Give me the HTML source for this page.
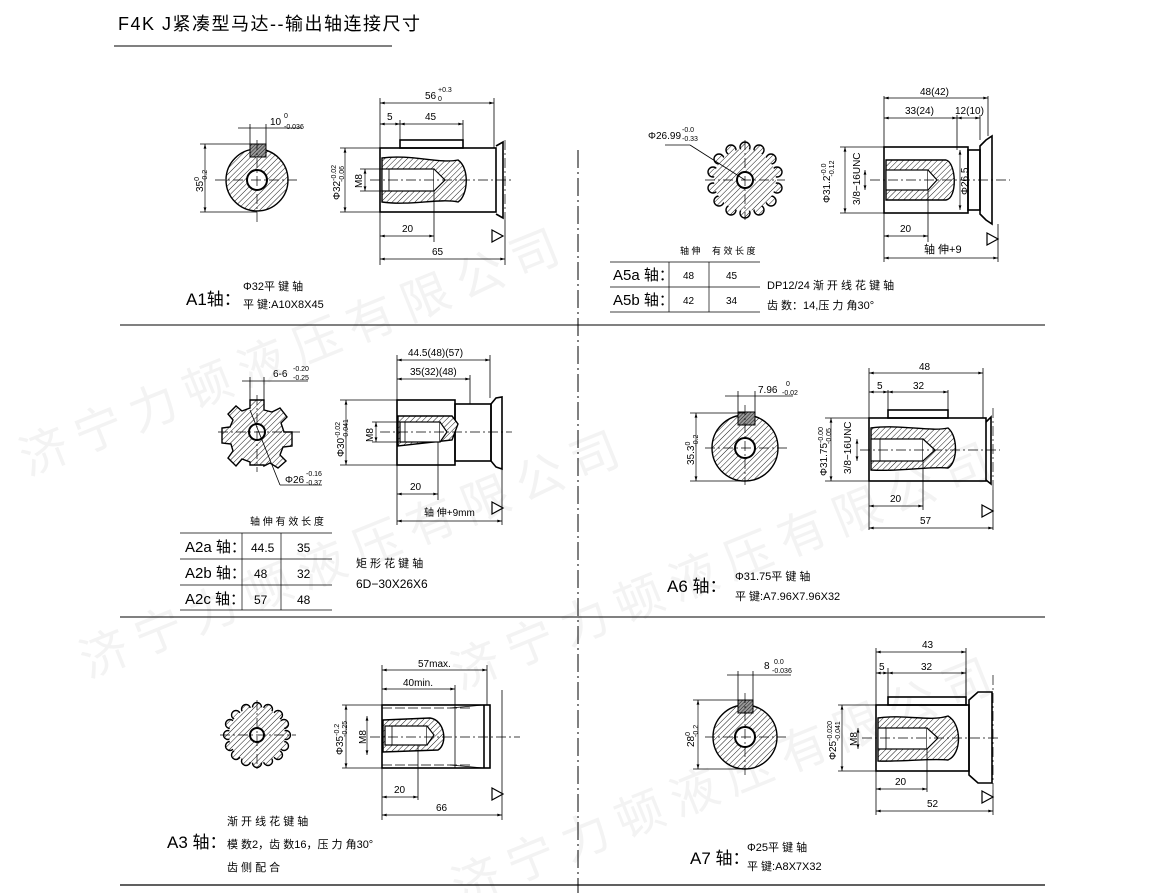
<!DOCTYPE html>
<html><head><meta charset="utf-8"><style>
html,body{margin:0;padding:0;background:#fff;overflow:hidden;width:1162px;height:893px}
svg{display:block}
text{font-family:"Liberation Sans","Noto Sans CJK SC",sans-serif;fill:#000}
.l{stroke:#000;stroke-width:1.6;fill:none}
.t{stroke:#000;stroke-width:0.8;fill:none}
.d{stroke:#000;stroke-width:0.7;fill:none}
.c{stroke:#000;stroke-width:0.7;stroke-dasharray:10 3 2 3;fill:none}
.h{fill:url(#hat);stroke:#000;stroke-width:1.4}
.s{font-size:10px}
.xs{font-size:7px}
.lab{font-size:17px}
.cn{font-size:11px}
.wm{font-size:48px;fill:#f3f3f3;font-family:"Noto Sans CJK SC",sans-serif}
</style></head><body>
<svg width="1162" height="893" viewBox="0 0 1162 893" xmlns="http://www.w3.org/2000/svg">
<defs>
<pattern id="hat" patternUnits="userSpaceOnUse" width="4" height="4" patternTransform="rotate(45)">
<rect width="4" height="4" fill="#fff"/><line x1="0" y1="0" x2="0" y2="4" stroke="#000" stroke-width="0.9"/></pattern>
<pattern id="hat2" patternUnits="userSpaceOnUse" width="2.5" height="2.5" patternTransform="rotate(45)">
<rect width="3" height="3" fill="#999"/><line x1="0" y1="0" x2="0" y2="3" stroke="#000" stroke-width="0.8"/></pattern>
<marker id="a" viewBox="0 0 10 6" refX="10" refY="3" markerWidth="8" markerHeight="4" orient="auto-start-reverse"><path d="M0,0 L10,3 L0,6z" fill="#000"/></marker>
</defs>

<!-- watermark -->
<g transform="rotate(-22 600 450)">
<text class="wm" x="60" y="260">济 宁 力 顿 液 压 有 限 公 司</text>
<text class="wm" x="40" y="470">济 宁 力 顿 液 压 有 限 公 司</text>
<text class="wm" x="380" y="620">济 宁 力 顿 液 压 有 限 公 司</text>
<text class="wm" x="300" y="820">济 宁 力 顿 液 压 有 限 公 司</text>
</g>

<!-- title -->
<text x="118" y="30" style="font-size:18px;letter-spacing:1.5px">F4K J紧凑型马达--输出轴连接尺寸</text>
<line x1="114" y1="46" x2="392" y2="46" stroke="#000" stroke-width="1"/>

<!-- dividers -->
<line x1="120" y1="325" x2="1045" y2="325" stroke="#000" stroke-width="1"/>
<line x1="120" y1="617" x2="1045" y2="617" stroke="#000" stroke-width="1"/>
<line x1="120" y1="885" x2="1045" y2="885" stroke="#000" stroke-width="1.2"/>
<line x1="578" y1="150" x2="578" y2="893" stroke="#000" stroke-width="1" stroke-dasharray="18 4 2 4"/>

<!-- ================= A1 ================= -->
<g>
<circle cx="257" cy="180" r="31" class="h"/>
<circle cx="257" cy="180" r="10" fill="#fff" stroke="#000" stroke-width="2"/>
<rect x="250" y="144" width="16" height="13" fill="url(#hat2)" stroke="#000" stroke-width="1"/>
<line x1="215" y1="180" x2="300" y2="180" class="c"/><line x1="257" y1="140" x2="257" y2="222" class="c"/>
<line x1="238" y1="128" x2="302" y2="128" class="d"/>
<line x1="250" y1="124" x2="250" y2="144" class="t"/><line x1="266" y1="124" x2="266" y2="144" class="t"/>
<text x="270" y="125" class="s">10</text><text x="284" y="118" class="xs">0</text><text x="284" y="129" class="xs">-0.036</text>
<line x1="200" y1="144" x2="250" y2="144" class="t"/><line x1="200" y1="212" x2="257" y2="212" class="t"/>
<line x1="205" y1="144" x2="205" y2="212" class="d" marker-start="url(#a)" marker-end="url(#a)"/>
<text transform="translate(203 192) rotate(-90)" class="s">35<tspan dy="-4" font-size="7">0</tspan><tspan dx="-5" dy="8" font-size="7">-0.2</tspan></text>

<rect x="380" y="148" width="116" height="64" class="l"/>
<rect x="400" y="140" width="63" height="8" class="l"/>
<path d="M496 146 L503 142 L503 218 L496 214" class="l"/>
<line x1="505" y1="140" x2="505" y2="220" class="c"/>
<path d="M382 158 C410 154 440 164 458 160 C470 168 468 196 458 202 C440 198 410 206 382 202 Z" class="h"/>
<rect x="382" y="169" width="52" height="22" fill="#fff" stroke="#000" stroke-width="1.2"/>
<path d="M434 169 L445 180 L434 191" fill="#fff" stroke="#000" stroke-width="1.2"/>
<line x1="389" y1="169" x2="389" y2="191" class="t"/>
<line x1="370" y1="180" x2="512" y2="180" class="c"/>
<line x1="340" y1="148" x2="380" y2="148" class="t"/><line x1="340" y1="212" x2="380" y2="212" class="t"/>
<line x1="345" y1="148" x2="345" y2="212" class="d" marker-start="url(#a)" marker-end="url(#a)"/>
<text transform="translate(340 200) rotate(-90)" class="s">Φ32<tspan dy="-4" font-size="7">-0.02</tspan><tspan dx="-17" dy="8" font-size="7">-0.06</tspan></text>
<line x1="365" y1="169" x2="365" y2="191" class="d" marker-start="url(#a)" marker-end="url(#a)"/>
<line x1="360" y1="169" x2="382" y2="169" class="t"/><line x1="360" y1="191" x2="382" y2="191" class="t"/>
<text transform="translate(362 188) rotate(-90)" class="s">M8</text>
<line x1="380" y1="98" x2="380" y2="265" class="t"/><line x1="494" y1="98" x2="494" y2="148" class="t"/>
<line x1="400" y1="120" x2="400" y2="140" class="t"/><line x1="463" y1="120" x2="463" y2="140" class="t"/>
<line x1="380" y1="103" x2="494" y2="103" class="d" marker-start="url(#a)" marker-end="url(#a)"/>
<text x="425" y="99" class="s">56</text><text x="438" y="92" class="xs">+0.3</text><text x="438" y="101" class="xs">0</text>
<line x1="380" y1="124" x2="400" y2="124" class="d" marker-start="url(#a)" marker-end="url(#a)"/>
<line x1="400" y1="124" x2="463" y2="124" class="d" marker-start="url(#a)" marker-end="url(#a)"/>
<text x="387" y="120" class="s">5</text><text x="425" y="120" class="s">45</text>
<line x1="434" y1="191" x2="434" y2="242" class="t"/>
<line x1="380" y1="236" x2="434" y2="236" class="d" marker-start="url(#a)" marker-end="url(#a)"/>
<text x="402" y="232" class="s">20</text>
<line x1="505" y1="220" x2="505" y2="265" class="t"/>
<line x1="380" y1="259" x2="505" y2="259" class="d" marker-start="url(#a)" marker-end="url(#a)"/>
<text x="432" y="255" class="s">65</text>
<path d="M492 230 L503 236 L492 242 Z" fill="none" stroke="#000" stroke-width="1.2"/>
<text x="186" y="305" class="lab">A1轴：</text>
<text x="243" y="290" class="cn">Φ32平 键 轴</text>
<text x="243" y="308" class="cn">平 键:A10X8X45</text>
</g>

<!-- ================= A5 ================= -->
<g>
<g class="h">
<circle cx="745" cy="147" r="5"/><circle cx="759" cy="150" r="5"/><circle cx="771" cy="159" r="5"/><circle cx="777" cy="172" r="5"/><circle cx="777" cy="188" r="5"/><circle cx="771" cy="201" r="5"/><circle cx="759" cy="210" r="5"/><circle cx="745" cy="213" r="5"/><circle cx="731" cy="210" r="5"/><circle cx="719" cy="201" r="5"/><circle cx="713" cy="188" r="5"/><circle cx="713" cy="172" r="5"/><circle cx="719" cy="159" r="5"/><circle cx="731" cy="150" r="5"/>
</g>
<circle cx="745" cy="180" r="31" fill="url(#hat)" stroke="none"/>
<circle cx="745" cy="180" r="8" fill="#fff" stroke="#000" stroke-width="2"/>
<line x1="705" y1="180" x2="785" y2="180" class="c"/><line x1="745" y1="140" x2="745" y2="220" class="c"/>
<line x1="665" y1="145" x2="690" y2="145" class="t"/><line x1="690" y1="145" x2="745" y2="180" class="t"/>
<text x="648" y="139" class="s">Φ26.99</text><text x="682" y="132" class="xs">-0.0</text><text x="682" y="141" class="xs">-0.33</text>

<rect x="884" y="147" width="84" height="66" class="l"/>
<rect x="968" y="150" width="12" height="60" class="l"/>
<path d="M980 146 L986 140 L992 136 L992 224 L986 220 L980 214 Z" class="l"/>
<path d="M886 160 L946 160 C956 162 958 198 946 200 L886 200 Z" class="h"/>
<rect x="886" y="170" width="42" height="20" fill="#fff" stroke="#000" stroke-width="1.2"/>
<path d="M928 170 L937 180 L928 190" fill="#fff" stroke="#000" stroke-width="1.2"/>
<line x1="870" y1="180" x2="1010" y2="180" class="c"/>
<line x1="840" y1="147" x2="884" y2="147" class="t"/><line x1="840" y1="213" x2="884" y2="213" class="t"/>
<line x1="845" y1="147" x2="845" y2="213" class="d" marker-start="url(#a)" marker-end="url(#a)"/>
<text transform="translate(830 203) rotate(-90)" class="s">Φ31.2<tspan dy="-4" font-size="7">-0.0</tspan><tspan dx="-13" dy="8" font-size="7">-0.12</tspan></text>
<line x1="865" y1="170" x2="865" y2="190" class="d" marker-start="url(#a)" marker-end="url(#a)"/>
<text transform="translate(860 205) rotate(-90)" class="s">3/8−16UNC</text>
<line x1="960" y1="150" x2="960" y2="210" class="d" marker-start="url(#a)" marker-end="url(#a)"/>
<text transform="translate(968 195) rotate(-90)" class="s">Φ26.5</text>
<line x1="884" y1="96" x2="884" y2="262" class="t"/><line x1="988" y1="96" x2="988" y2="136" class="t"/>
<line x1="957" y1="115" x2="957" y2="150" class="t"/><line x1="980" y1="115" x2="980" y2="140" class="t"/>
<line x1="884" y1="98" x2="988" y2="98" class="d" marker-start="url(#a)" marker-end="url(#a)"/>
<text x="920" y="95" class="s">48(42)</text>
<line x1="884" y1="118" x2="957" y2="118" class="d" marker-start="url(#a)" marker-end="url(#a)"/>
<text x="905" y="114" class="s">33(24)</text>
<line x1="957" y1="118" x2="980" y2="118" class="d" marker-start="url(#a)" marker-end="url(#a)"/>
<text x="955" y="114" class="s">12(10)</text>
<line x1="928" y1="190" x2="928" y2="242" class="t"/>
<line x1="884" y1="236" x2="928" y2="236" class="d" marker-start="url(#a)" marker-end="url(#a)"/>
<text x="900" y="232" class="s">20</text>
<line x1="998" y1="224" x2="998" y2="262" class="t"/>
<line x1="884" y1="258" x2="998" y2="258" class="d" marker-start="url(#a)" marker-end="url(#a)"/>
<text x="924" y="253" class="cn">轴 伸+9</text>
<path d="M987 233 L998 239 L987 245 Z" fill="none" stroke="#000" stroke-width="1.2"/>

<text x="680" y="254" class="cn" style="font-size:9px">轴 伸</text>
<text x="712" y="254" class="cn" style="font-size:9px">有 效 长 度</text>
<line x1="610" y1="262" x2="760" y2="262" class="d"/>
<line x1="610" y1="287" x2="760" y2="287" class="d"/>
<line x1="610" y1="312" x2="760" y2="312" class="d"/>
<line x1="669" y1="262" x2="669" y2="312" class="d"/><line x1="709" y1="262" x2="709" y2="312" class="d"/>
<text x="613" y="280" class="lab" style="font-size:15px">A5a 轴：</text>
<text x="613" y="305" class="lab" style="font-size:15px">A5b 轴：</text>
<text x="683" y="279" class="s">48</text><text x="726" y="279" class="s">45</text>
<text x="683" y="304" class="s">42</text><text x="726" y="304" class="s">34</text>
<text x="767" y="289" class="cn">DP12/24 渐 开 线 花 键 轴</text>
<text x="767" y="309" class="cn">齿 数：14,压 力 角30°</text>
</g>

<!-- ================= A2 ================= -->
<g>
<path d="M250 400 L264 400 L264 410 L272 412 L280 408 L287 417 L281 423 L284 432 L292 432 L292 446 L283 447 L280 455 L286 461 L278 468 L270 463 L264 466 L264 465 L250 465 L250 462 L242 459 L236 466 L228 458 L233 451 L231 444 L222 443 L222 428 L230 427 L233 420 L228 414 L236 406 L242 411 L250 408 Z" class="h"/>
<circle cx="257" cy="432" r="8" fill="#fff" stroke="#000" stroke-width="2"/>
<line x1="218" y1="432" x2="300" y2="432" class="c"/><line x1="257" y1="395" x2="257" y2="472" class="c"/>
<line x1="242" y1="381" x2="308" y2="381" class="d"/>
<line x1="250" y1="377" x2="250" y2="400" class="t"/><line x1="264" y1="377" x2="264" y2="400" class="t"/>
<text x="273" y="377" class="s">6-6</text><text x="293" y="371" class="xs">-0.20</text><text x="293" y="380" class="xs">-0.25</text>
<line x1="250" y1="410" x2="280" y2="485" class="t"/><line x1="280" y1="485" x2="322" y2="485" class="t"/>
<text x="285" y="483" class="s">Φ26</text><text x="306" y="476" class="xs">-0.16</text><text x="306" y="485" class="xs">-0.37</text>

<rect x="397" y="400" width="58" height="65" class="l"/>
<rect x="455" y="404" width="36" height="57" class="l"/>
<path d="M491 404 L496 398 L502 397 L502 469 L496 467 L491 461 Z" class="l"/>
<path d="M398 416 L452 416 L458 424 L452 440 L398 446 Z" class="h"/>
<rect x="400" y="422" width="40" height="20" fill="#fff" stroke="#000" stroke-width="1.2"/>
<path d="M440 422 L447 432 L440 442" fill="#fff" stroke="#000" stroke-width="1.2"/>
<line x1="405" y1="422" x2="405" y2="442" class="t"/>
<line x1="380" y1="432" x2="512" y2="432" class="c"/>
<line x1="340" y1="400" x2="397" y2="400" class="t"/><line x1="340" y1="465" x2="397" y2="465" class="t"/>
<line x1="346" y1="400" x2="346" y2="465" class="d" marker-start="url(#a)" marker-end="url(#a)"/>
<text transform="translate(344 457) rotate(-90)" class="s">Φ30<tspan dy="-4" font-size="7">-0.02</tspan><tspan dx="-17" dy="8" font-size="7">-0.041</tspan></text>
<line x1="376" y1="422" x2="376" y2="442" class="d" marker-start="url(#a)" marker-end="url(#a)"/>
<line x1="372" y1="422" x2="400" y2="422" class="t"/><line x1="372" y1="442" x2="400" y2="442" class="t"/>
<text transform="translate(373 442) rotate(-90)" class="s">M8</text>
<line x1="397" y1="355" x2="397" y2="525" class="t"/><line x1="490" y1="355" x2="490" y2="398" class="t"/>
<line x1="470" y1="375" x2="470" y2="404" class="t"/>
<line x1="397" y1="360" x2="490" y2="360" class="d" marker-start="url(#a)" marker-end="url(#a)"/>
<text x="408" y="356" class="s">44.5(48)(57)</text>
<line x1="397" y1="379" x2="470" y2="379" class="d" marker-start="url(#a)" marker-end="url(#a)"/>
<text x="410" y="375" class="s">35(32)(48)</text>
<line x1="438" y1="442" x2="438" y2="500" class="t"/>
<line x1="397" y1="494" x2="438" y2="494" class="d" marker-start="url(#a)" marker-end="url(#a)"/>
<text x="410" y="490" class="s">20</text>
<line x1="502" y1="469" x2="502" y2="525" class="t"/>
<line x1="397" y1="521" x2="502" y2="521" class="d" marker-start="url(#a)" marker-end="url(#a)"/>
<text x="424" y="516" class="cn" style="font-size:10px">轴 伸+9mm</text>
<path d="M492 502 L503 508 L492 514 Z" fill="none" stroke="#000" stroke-width="1.2"/>

<text x="250" y="525" class="cn" style="font-size:10px">轴 伸  有 效 长 度</text>
<line x1="180" y1="533" x2="332" y2="533" class="d"/>
<line x1="180" y1="559" x2="332" y2="559" class="d"/>
<line x1="180" y1="585" x2="332" y2="585" class="d"/>
<line x1="180" y1="610" x2="332" y2="610" class="d"/>
<line x1="242" y1="533" x2="242" y2="610" class="d"/><line x1="281" y1="533" x2="281" y2="610" class="d"/>
<text x="185" y="552" class="lab" style="font-size:15px">A2a 轴：</text>
<text x="185" y="578" class="lab" style="font-size:15px">A2b 轴：</text>
<text x="185" y="604" class="lab" style="font-size:15px">A2c 轴：</text>
<text x="251" y="552" class="s" style="font-size:12px">44.5</text><text x="297" y="552" class="s" style="font-size:12px">35</text>
<text x="254" y="578" class="s" style="font-size:12px">48</text><text x="297" y="578" class="s" style="font-size:12px">32</text>
<text x="254" y="604" class="s" style="font-size:12px">57</text><text x="297" y="604" class="s" style="font-size:12px">48</text>
<text x="356" y="567" class="cn">矩 形 花 键 轴</text>
<text x="356" y="588" class="cn" style="font-size:12px">6D−30X26X6</text>
</g>

<!-- ================= A6 ================= -->
<g>
<circle cx="745" cy="448" r="33" class="h"/>
<circle cx="745" cy="448" r="10" fill="#fff" stroke="#000" stroke-width="2"/>
<rect x="738" y="412" width="17" height="13" fill="url(#hat2)" stroke="#000" stroke-width="1"/>
<line x1="705" y1="448" x2="788" y2="448" class="c"/><line x1="745" y1="405" x2="745" y2="485" class="c"/>
<line x1="725" y1="396" x2="793" y2="396" class="d"/>
<line x1="738" y1="391" x2="738" y2="412" class="t"/><line x1="755" y1="391" x2="755" y2="412" class="t"/>
<text x="758" y="393" class="s">7.96</text><text x="786" y="386" class="xs">0</text><text x="782" y="395" class="xs">-0.02</text>
<line x1="690" y1="413" x2="745" y2="413" class="t"/><line x1="690" y1="481" x2="745" y2="481" class="t"/>
<line x1="696" y1="413" x2="696" y2="481" class="d" marker-start="url(#a)" marker-end="url(#a)"/>
<text transform="translate(694 465) rotate(-90)" class="s">35.3<tspan dy="-4" font-size="7">0</tspan><tspan dx="-5" dy="8" font-size="7">-0.2</tspan></text>

<rect x="869" y="418" width="117" height="63" class="l"/>
<rect x="888" y="410" width="60" height="8" class="l"/>
<path d="M986 422 L991 417 L991 484 L986 480" class="l"/>
<line x1="993" y1="408" x2="993" y2="490" class="c"/>
<path d="M871 428 C900 424 930 432 948 428 C958 436 958 462 948 468 C930 466 900 472 871 470 Z" class="h"/>
<rect x="871" y="439" width="52" height="22" fill="#fff" stroke="#000" stroke-width="1.2"/>
<path d="M923 439 L935 450 L923 461" fill="#fff" stroke="#000" stroke-width="1.2"/>
<line x1="880" y1="439" x2="880" y2="461" class="t"/>
<line x1="860" y1="450" x2="1000" y2="450" class="c"/>
<line x1="825" y1="418" x2="869" y2="418" class="t"/><line x1="825" y1="481" x2="869" y2="481" class="t"/>
<line x1="831" y1="418" x2="831" y2="481" class="d" marker-start="url(#a)" marker-end="url(#a)"/>
<text transform="translate(827 476) rotate(-90)" class="s">Φ31.75<tspan dy="-4" font-size="7">-0.00</tspan><tspan dx="-17" dy="8" font-size="7">-0.05</tspan></text>
<line x1="857" y1="439" x2="857" y2="461" class="d" marker-start="url(#a)" marker-end="url(#a)"/>
<text transform="translate(851 474) rotate(-90)" class="s">3/8−16UNC</text>
<line x1="869" y1="368" x2="869" y2="530" class="t"/><line x1="983" y1="368" x2="983" y2="418" class="t"/>
<line x1="888" y1="390" x2="888" y2="410" class="t"/><line x1="948" y1="390" x2="948" y2="410" class="t"/>
<line x1="869" y1="373" x2="983" y2="373" class="d" marker-start="url(#a)" marker-end="url(#a)"/>
<text x="919" y="370" class="s">48</text>
<line x1="869" y1="392" x2="888" y2="392" class="d" marker-start="url(#a)" marker-end="url(#a)"/>
<line x1="888" y1="392" x2="948" y2="392" class="d" marker-start="url(#a)" marker-end="url(#a)"/>
<text x="877" y="389" class="s">5</text><text x="913" y="389" class="s">32</text>
<line x1="923" y1="461" x2="923" y2="510" class="t"/>
<line x1="869" y1="506" x2="923" y2="506" class="d" marker-start="url(#a)" marker-end="url(#a)"/>
<text x="890" y="502" class="s">20</text>
<line x1="993" y1="490" x2="993" y2="530" class="t"/>
<line x1="869" y1="528" x2="993" y2="528" class="d" marker-start="url(#a)" marker-end="url(#a)"/>
<text x="920" y="524" class="s">57</text>
<path d="M982 505 L993 511 L982 517 Z" fill="none" stroke="#000" stroke-width="1.2"/>
<text x="667" y="592" class="lab">A6 轴：</text>
<text x="735" y="580" class="cn">Φ31.75平 键 轴</text>
<text x="735" y="600" class="cn">平 键:A7.96X7.96X32</text>
</g>

<!-- ================= A3 ================= -->
<g>
<g class="h">
<circle cx="257" cy="707" r="4.5"/><circle cx="268" cy="709" r="4.5"/><circle cx="278" cy="715" r="4.5"/><circle cx="284" cy="724" r="4.5"/><circle cx="286" cy="735" r="4.5"/><circle cx="284" cy="746" r="4.5"/><circle cx="278" cy="755" r="4.5"/><circle cx="268" cy="761" r="4.5"/><circle cx="257" cy="763" r="4.5"/><circle cx="246" cy="761" r="4.5"/><circle cx="236" cy="755" r="4.5"/><circle cx="230" cy="746" r="4.5"/><circle cx="228" cy="735" r="4.5"/><circle cx="230" cy="724" r="4.5"/><circle cx="236" cy="715" r="4.5"/><circle cx="246" cy="709" r="4.5"/>
</g>
<circle cx="257" cy="735" r="28" fill="url(#hat)" stroke="none"/>
<circle cx="257" cy="735" r="7" fill="#fff" stroke="#000" stroke-width="2"/>
<line x1="220" y1="735" x2="296" y2="735" class="c"/><line x1="257" y1="700" x2="257" y2="772" class="c"/>

<rect x="382" y="705" width="108" height="63" class="l"/>
<line x1="484" y1="705" x2="484" y2="768" class="l"/>
<line x1="382" y1="708" x2="470" y2="708" stroke="#000" stroke-width="0.8" stroke-dasharray="10 3"/>
<line x1="382" y1="765" x2="470" y2="765" stroke="#000" stroke-width="0.8" stroke-dasharray="10 3"/>
<line x1="450" y1="708" x2="484" y2="705" class="t"/><line x1="450" y1="765" x2="484" y2="768" class="t"/>
<path d="M383 720 L430 718 C445 720 448 744 438 750 L383 752 Z" class="h"/>
<rect x="385" y="726" width="42" height="19" fill="#fff" stroke="#000" stroke-width="1.2"/>
<path d="M427 726 L434 735 L427 745" fill="#fff" stroke="#000" stroke-width="1.2"/>
<line x1="392" y1="726" x2="392" y2="745" class="t"/>
<line x1="370" y1="737" x2="520" y2="737" class="c"/>
<line x1="342" y1="705" x2="382" y2="705" class="t"/><line x1="342" y1="768" x2="382" y2="768" class="t"/>
<line x1="346" y1="705" x2="346" y2="768" class="d" marker-start="url(#a)" marker-end="url(#a)"/>
<text transform="translate(343 755) rotate(-90)" class="s">Φ35<tspan dy="-4" font-size="7">-0.2</tspan><tspan dx="-13" dy="8" font-size="7">-0.25</tspan></text>
<line x1="367" y1="716" x2="367" y2="755" class="d" marker-start="url(#a)" marker-end="url(#a)"/>
<text transform="translate(366 744) rotate(-90)" class="s">M8</text>
<line x1="382" y1="665" x2="382" y2="820" class="t"/><line x1="487" y1="665" x2="487" y2="705" class="t"/>
<line x1="455" y1="685" x2="455" y2="768" class="t"/><line x1="502" y1="690" x2="502" y2="820" class="t"/>
<line x1="382" y1="670" x2="487" y2="670" class="d" marker-start="url(#a)" marker-end="url(#a)"/>
<text x="418" y="667" class="s">57max.</text>
<line x1="382" y1="689" x2="455" y2="689" class="d" marker-start="url(#a)" marker-end="url(#a)"/>
<text x="403" y="686" class="s">40min.</text>
<line x1="418" y1="745" x2="418" y2="800" class="t"/>
<line x1="382" y1="797" x2="418" y2="797" class="d" marker-start="url(#a)" marker-end="url(#a)"/>
<text x="394" y="793" class="s">20</text>
<line x1="382" y1="815" x2="502" y2="815" class="d" marker-start="url(#a)" marker-end="url(#a)"/>
<text x="436" y="811" class="s">66</text>
<path d="M492 788 L503 794 L492 800 Z" fill="none" stroke="#000" stroke-width="1.2"/>
<text x="227" y="825" class="cn">渐 开 线 花 键 轴</text>
<text x="167" y="848" class="lab">A3 轴：</text>
<text x="227" y="848" class="cn">模 数2，齿 数16，压 力 角30°</text>
<text x="227" y="871" class="cn">齿 侧 配 合</text>
</g>

<!-- ================= A7 ================= -->
<g>
<circle cx="745" cy="737" r="32" class="h"/>
<circle cx="745" cy="737" r="10" fill="#fff" stroke="#000" stroke-width="2"/>
<rect x="738" y="700" width="15" height="13" fill="url(#hat2)" stroke="#000" stroke-width="1"/>
<line x1="705" y1="737" x2="786" y2="737" class="c"/><line x1="745" y1="693" x2="745" y2="778" class="c"/>
<line x1="727" y1="675" x2="791" y2="675" class="d"/>
<line x1="738" y1="671" x2="738" y2="700" class="t"/><line x1="753" y1="671" x2="753" y2="700" class="t"/>
<text x="764" y="669" class="s">8</text><text x="774" y="664" class="xs">0.0</text><text x="772" y="673" class="xs">-0.036</text>
<line x1="693" y1="700" x2="745" y2="700" class="t"/><line x1="693" y1="769" x2="745" y2="769" class="t"/>
<line x1="698" y1="700" x2="698" y2="769" class="d" marker-start="url(#a)" marker-end="url(#a)"/>
<text transform="translate(694 747) rotate(-90)" class="s">28<tspan dy="-4" font-size="7">0</tspan><tspan dx="-5" dy="8" font-size="7">-0.2</tspan></text>

<rect x="876" y="705" width="93" height="66" class="l"/>
<rect x="888" y="697" width="78" height="8" class="l"/>
<path d="M969 700 L978 692 L992 692 L992 783 L978 783 L969 775 Z" class="l"/>
<line x1="993" y1="675" x2="993" y2="790" class="c"/>
<path d="M878 718 C905 714 930 722 948 716 C962 724 962 754 948 760 C930 758 905 762 878 761 Z" class="h"/>
<rect x="878" y="728" width="49" height="21" fill="#fff" stroke="#000" stroke-width="1.2"/>
<path d="M927 728 L938 738 L927 749" fill="#fff" stroke="#000" stroke-width="1.2"/>
<line x1="886" y1="728" x2="886" y2="749" class="t"/>
<line x1="862" y1="738" x2="1000" y2="738" class="c"/>
<line x1="838" y1="705" x2="876" y2="705" class="t"/><line x1="838" y1="771" x2="876" y2="771" class="t"/>
<line x1="842" y1="705" x2="842" y2="771" class="d" marker-start="url(#a)" marker-end="url(#a)"/>
<text transform="translate(836 760) rotate(-90)" class="s">Φ25<tspan dy="-4" font-size="7">-0.020</tspan><tspan dx="-20" dy="8" font-size="7">-0.041</tspan></text>
<line x1="858" y1="728" x2="858" y2="749" class="d" marker-start="url(#a)" marker-end="url(#a)"/>
<text transform="translate(857 746) rotate(-90)" class="s">M8</text>
<line x1="876" y1="648" x2="876" y2="815" class="t"/><line x1="966" y1="648" x2="966" y2="700" class="t"/>
<line x1="888" y1="668" x2="888" y2="697" class="t"/><line x1="966" y1="668" x2="966" y2="697" class="t"/>
<line x1="876" y1="652" x2="966" y2="652" class="d" marker-start="url(#a)" marker-end="url(#a)"/>
<text x="922" y="648" class="s">43</text>
<line x1="876" y1="673" x2="888" y2="673" class="d" marker-start="url(#a)" marker-end="url(#a)"/>
<line x1="888" y1="673" x2="966" y2="673" class="d" marker-start="url(#a)" marker-end="url(#a)"/>
<text x="879" y="670" class="s">5</text><text x="921" y="670" class="s">32</text>
<line x1="927" y1="749" x2="927" y2="792" class="t"/>
<line x1="876" y1="789" x2="927" y2="789" class="d" marker-start="url(#a)" marker-end="url(#a)"/>
<text x="895" y="785" class="s">20</text>
<line x1="993" y1="790" x2="993" y2="815" class="t"/>
<line x1="876" y1="811" x2="993" y2="811" class="d" marker-start="url(#a)" marker-end="url(#a)"/>
<text x="927" y="807" class="s">52</text>
<path d="M982 791 L993 797 L982 803 Z" fill="none" stroke="#000" stroke-width="1.2"/>
<text x="690" y="864" class="lab">A7 轴：</text>
<text x="747" y="851" class="cn">Φ25平 键 轴</text>
<text x="747" y="870" class="cn">平 键:A8X7X32</text>
</g>
</svg>
</body></html>
